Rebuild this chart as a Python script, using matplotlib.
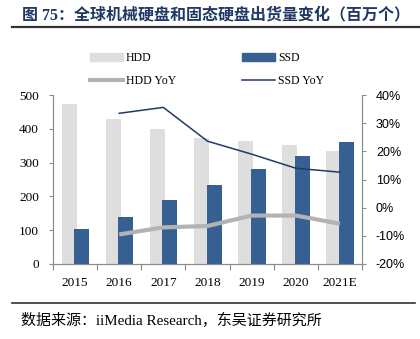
import matplotlib
matplotlib.use("Agg")
import matplotlib.pyplot as plt
import numpy as np
from matplotlib.lines import Line2D
from matplotlib.patches import Patch

plt.rcParams['font.family'] = ['Liberation Serif', 'Noto Sans CJK SC']

years = ['2015', '2016', '2017', '2018', '2019', '2020', '2021E']
hdd = [472, 428, 398, 373, 363, 353, 333]
ssd = [104, 140, 190, 235, 280, 320, 360]
hdd_yoy = [None, -0.095, -0.07, -0.065, -0.028, -0.028, -0.057]
ssd_yoy = [None, 0.335, 0.356, 0.236, 0.19, 0.14, 0.126]
left_ticks = [0, 100, 200, 300, 400, 500]
right_ticks = [-0.2, -0.1, 0.0, 0.1, 0.2, 0.3, 0.4]

C_HDD = '#DEDEDE'
C_SSD = '#376092'
C_HDDL = '#B3B3B3'
C_SSDL = '#1F3B66'
C_AX = '#8C8C8C'

fig = plt.figure(figsize=(4.2, 3.39), dpi=100)
ax = fig.add_axes([53/420, 1-264/339, (362-53)/420, (264-95)/339])
ax2 = ax.twinx()

x = np.arange(len(years))
w = 0.34
ax.bar(x - 0.135, hdd, width=w, color=C_HDD, zorder=2)
ax.bar(x + 0.15, ssd, width=w, color=C_SSD, zorder=3)

xs = [xi for xi, v in zip(x, hdd_yoy) if v is not None]
ax2.plot(xs, [v for v in hdd_yoy if v is not None], color=C_HDDL, lw=3, solid_capstyle='butt')
ax2.plot(xs, [v for v in ssd_yoy if v is not None], color=C_SSDL, lw=1.1)

ax.set_xlim(-0.5, len(years) - 0.5)
ax.set_ylim(0, 500)
ax2.set_ylim(-0.2, 0.4)
ax.set_yticks(left_ticks)
ax.set_yticklabels([str(t) for t in left_ticks], fontsize=9.5)
ax2.set_yticks(right_ticks)
ax2.set_yticklabels([f"{round(t*100)}%" for t in right_ticks], fontsize=9,
                    family='Liberation Sans')
ax.set_xticks(x)
ax.set_xticklabels(years, fontsize=9.5)
ax.set_xticks(np.arange(-0.5, len(years) + 0.5, 1), minor=True)
ax.tick_params(axis='x', which='major', length=0, pad=9)
ax.tick_params(axis='x', which='minor', length=4, color=C_AX, width=0.8)
ax.tick_params(axis='y', length=3, color=C_AX, width=0.8, pad=7)
ax2.tick_params(axis='y', length=3, color=C_AX, width=0.8, pad=7)

for a in (ax, ax2):
    a.spines['top'].set_visible(False)
    for s in ('left', 'right', 'bottom'):
        a.spines[s].set_color(C_AX)
        a.spines[s].set_linewidth(0.8)

handles = [Patch(color=C_HDD), Line2D([], [], color=C_HDDL, lw=3),
           Patch(color=C_SSD), Line2D([], [], color=C_SSDL, lw=1.1)]
labels = ['HDD', 'HDD YoY', 'SSD', 'SSD YoY']
fig.legend(handles, labels, ncol=2, loc='upper left', bbox_to_anchor=(90/420, 1-52/339),
           frameon=False, fontsize=8.5, handlelength=2.8, handletextpad=0.25,
           columnspacing=5.6, labelspacing=0.95, borderpad=0, borderaxespad=0)

fig.text(22/420, 1-15/339, '图 75：全球机械硬盘和固态硬盘出货量变化（百万个）',
         fontsize=11.5, fontweight='bold', color='#1F3864', va='center', ha='left',
         family=['Liberation Serif', 'Noto Sans CJK SC'])
fig.add_artist(Line2D([12/420, 1.0], [1-27/339, 1-27/339], color='#333333', lw=1.6))
fig.add_artist(Line2D([12/420, 415/420], [1-302.5/339, 1-302.5/339], color='#333333', lw=1.2))
fig.text(21/420, 1-320/339, '数据来源：iiMedia Research，东吴证券研究所',
         fontsize=10.8, color='black', va='center', ha='left',
         family=['Liberation Serif', 'Noto Sans CJK SC'])

fig.savefig('out.png', dpi=100)
